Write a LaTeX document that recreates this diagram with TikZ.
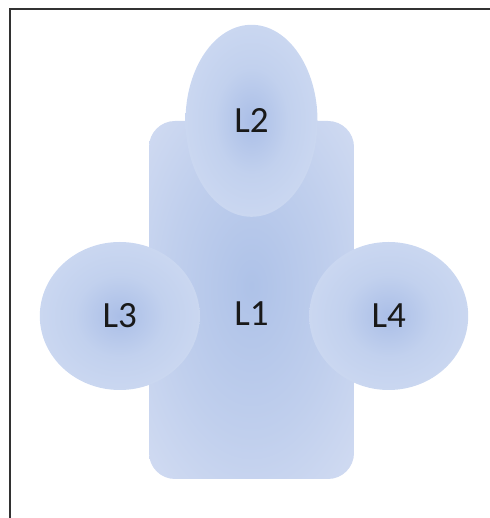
\documentclass[tikz,border=0pt]{standalone}
\usepackage{fontspec}
\setmainfont{Carlito}
\usepackage{xcolor}
\definecolor{lobecore}{RGB}{170,190,231}
\definecolor{lobemid}{RGB}{194,209,238}
\definecolor{lobeedge}{RGB}{213,223,244}
\definecolor{loberim}{RGB}{228,234,247}
\definecolor{bodycore}{RGB}{174,194,232}
\definecolor{bodymid}{RGB}{192,207,237}
\definecolor{bodyedge}{RGB}{224,230,246}
\definecolor{framegray}{RGB}{50,50,50}
\usepackage{tikz}
\usetikzlibrary{positioning,shapes.geometric}
\pgfdeclareradialshading{lobeshade}{\pgfpointorigin}{color(0bp)=(lobecore); color(14bp)=(lobemid); color(40bp)=(lobeedge); color(50bp)=(loberim)}
\pgfdeclareradialshading{bodyshade}{\pgfpoint{0bp}{2bp}}{color(0bp)=(bodycore); color(20bp)=(bodymid); color(50bp)=(bodyedge)}
\tikzset{
  body/.style ={rectangle, rounded corners=26pt, shading=bodyshade, draw=none,
                minimum width=205pt, minimum height=358pt, inner sep=0pt},
  lobe/.style ={ellipse, shading=lobeshade, draw=none, inner sep=0pt,
                font=\fontsize{37}{44}\selectfont, text=black!90},
  lbl/.style  ={font=\fontsize{37}{44}\selectfont, text=black!90, inner sep=0pt},
  frm/.style  ={draw=framegray, line width=1.4pt},
}

\begin{document}
\begin{tikzpicture}[x=1pt, y=1pt]
  \useasboundingbox (0,0) rectangle (489,518);
  \draw[frm] (10,-2) -- (10,509) -- (491,509);
  \node[body, label={[lbl, yshift=-14pt]center:L1}] (l1) at (251.5,218) {};
  \node[lobe, minimum width=132pt, minimum height=192pt] (l2) at (l1.north) {L2};
  \node[lobe, minimum width=160pt, minimum height=148pt] (l3) at ([xshift=-29pt, yshift=-16pt]l1.west) {L3};
  \node[lobe, minimum width=159pt, minimum height=148pt] (l4) at ([xshift=34.5pt, yshift=-16pt]l1.east) {L4};
\end{tikzpicture}
\end{document}
